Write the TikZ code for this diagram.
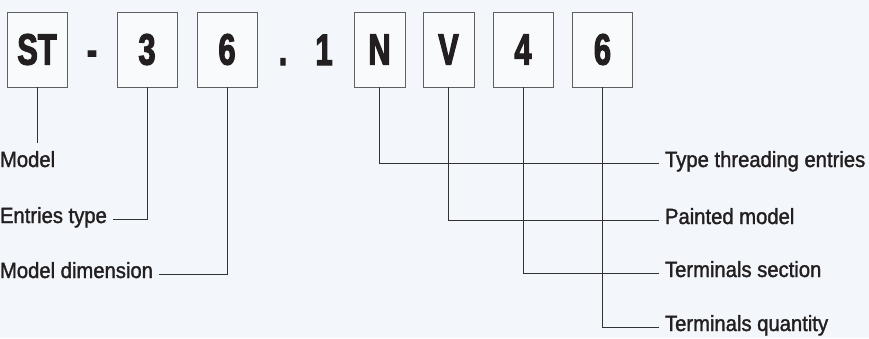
\documentclass[tikz,border=0pt]{standalone}
\usepackage{fontspec}
\setmainfont{Liberation Sans}
\newfontfamily\boxfont[FakeStretch=0.7,FakeBold=2.5]{Liberation Sans Bold}
\newfontfamily\labelfont[FakeStretch=0.92,FakeBold=1.5]{Liberation Sans}
\definecolor{bg}{RGB}{243,246,250}
\definecolor{ink}{RGB}{35,31,32}
\definecolor{boxline}{RGB}{95,95,95}
\definecolor{leadline}{RGB}{50,50,50}
\tikzset{
  code/.style={draw=boxline,line width=0.9pt,fill=white!40!bg,minimum width=60pt,minimum height=75pt,inner sep=0pt,text=ink,font=\boxfont\fontsize{44}{44}\selectfont},
  narrow/.style={code,minimum width=51pt},
  sepchar/.style={anchor=base,inner sep=0pt,text=ink,font=\boxfont\fontsize{44}{44}\selectfont},
  lbl/.style={inner sep=0pt,outer xsep=6pt,text height=8pt,text depth=0pt,text=ink,font=\labelfont\fontsize{22}{22}\selectfont},
  leader/.style={draw=leadline,line width=0.8pt}
}
\begin{document}
\begin{tikzpicture}[x=1pt,y=-1pt]
  \fill[bg] (0,0) rectangle (869,338);
  \useasboundingbox (0,0) rectangle (869,338);
  \node[code] (st) at (37,49.5) {ST};
  \node[sepchar] (dash) at (92,65) {-};
  \node[code] (entry) at (147,49.5) {3};
  \node[code] (dim) at (227,49.5) {6};
  \node[sepchar] (dot) at (283,65) {.};
  \node[sepchar] (one) at (324,65) {1};
  \node[narrow] (thread) at (379.5,49.5) {N};
  \node[narrow] (paint) at (448.5,49.5) {V};
  \node[code] (section) at (523,49.5) {4};
  \node[code] (qty) at (602.5,49.5) {6};

  \node[lbl,anchor=west] (model) at (-6,163) {Model};
  \node[lbl,anchor=west] (entrylbl) at (-6,219) {Entries type};
  \node[lbl,anchor=west] (dimlbl) at (-6,274) {Model dimension};
  \node[lbl,anchor=west] (threadlbl) at (659,163) {Type threading entries};
  \node[lbl,anchor=west] (paintlbl) at (659,220) {Painted model};
  \node[lbl,anchor=west] (sectionlbl) at (659,273) {Terminals section};
  \node[lbl,anchor=west] (qtylbl) at (659,327) {Terminals quantity};

  \draw[leader,shorten >=16pt] (st.south) -- (st.south |- model.north);
  \draw[leader] (entry.south) |- (entrylbl.east);
  \draw[leader] (dim.south) |- (dimlbl.east);
  \draw[leader] (thread.south) |- (threadlbl.west);
  \draw[leader] (paint.south) |- (paintlbl.west);
  \draw[leader] (section.south) |- (sectionlbl.west);
  \draw[leader] (qty.south) |- (qtylbl.west);
\end{tikzpicture}
\end{document}
